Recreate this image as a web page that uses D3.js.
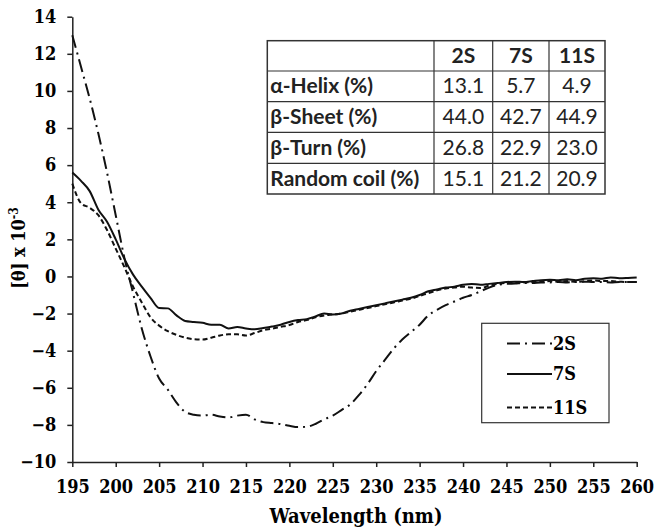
<!DOCTYPE html>
<html>
<head>
<meta charset="utf-8">
<script src="https://cdn.jsdelivr.net/npm/d3@7"></script>
<style>
  body { margin: 0; background: #fff; }
  svg { display: block; }
  .axis path, .axis line { stroke: #222; stroke-width: 1.5; }
  .serif { font-stretch: condensed; }
</style>
</head>
<body>
<div class="container"></div>
<script>
// CD spectra of 2S / 7S / 11S
const wavelengths = [195, 196, 197, 198, 199, 200, 201, 202, 203, 204, 205, 206, 207, 208, 209, 210,
  211, 212, 213, 214, 215, 216, 217, 218, 219, 220, 221, 222, 223, 224, 225, 226, 227, 228, 229, 230,
  231, 232, 233, 234, 235, 236, 237, 238, 239, 240, 241, 242, 243, 244, 245, 246, 247, 248, 249, 250,
  251, 252, 253, 254, 255, 256, 257, 258, 259, 260];

const s2 = [13.0, 11.3, 9.6, 7.7, 5.6, 3.3, 1.0, -0.9, -2.8, -4.3, -5.5, -6.1, -6.8, -7.3, -7.45, -7.5,
  -7.45, -7.55, -7.6, -7.5, -7.45, -7.7, -7.85, -7.9, -7.95, -8.05, -8.12, -8.1, -7.95, -7.7, -7.5, -7.2,
  -6.9, -6.4, -5.8, -5.1, -4.5, -3.9, -3.4, -3.0, -2.6, -2.1, -1.8, -1.55, -1.35, -1.15, -1.0, -0.8,
  -0.6, -0.45, -0.4, -0.38, -0.35, -0.35, -0.32, -0.32, -0.3, -0.32, -0.3, -0.28, -0.3, -0.3, -0.32,
  -0.3, -0.3, -0.3];

const s7 = [5.6, 5.15, 4.6, 3.6, 2.95, 2.0, 0.95, 0.1, -0.55, -1.15, -1.7, -1.72, -2.1, -2.4, -2.45, -2.5,
  -2.6, -2.6, -2.8, -2.72, -2.8, -2.85, -2.78, -2.7, -2.6, -2.45, -2.35, -2.3, -2.15, -2.0, -2.05, -2.0,
  -1.85, -1.75, -1.65, -1.55, -1.45, -1.35, -1.25, -1.15, -1.0, -0.8, -0.7, -0.6, -0.55, -0.45, -0.4,
  -0.45, -0.4, -0.35, -0.3, -0.28, -0.3, -0.25, -0.2, -0.18, -0.2, -0.15, -0.2, -0.12, -0.1, -0.12,
  -0.05, -0.1, -0.08, -0.05];

const s11 = [5.0, 3.95, 3.7, 3.3, 2.5, 1.5, 0.5, -0.55, -1.4, -2.2, -2.65, -2.95, -3.15, -3.3, -3.38, -3.4,
  -3.3, -3.18, -3.12, -3.12, -3.18, -3.05, -2.9, -2.82, -2.72, -2.62, -2.45, -2.35, -2.2, -2.1, -2.05,
  -2.0, -1.9, -1.8, -1.7, -1.6, -1.5, -1.4, -1.3, -1.2, -1.05, -0.9, -0.75, -0.65, -0.6, -0.55, -0.6,
  -0.62, -0.5, -0.4, -0.35, -0.35, -0.32, -0.3, -0.3, -0.25, -0.28, -0.25, -0.3, -0.25, -0.22, -0.25,
  -0.25, -0.28, -0.3, -0.3];

const seriesNames = ["2S", "7S", "11S"];
const seriesDash = ["13,5,2,5", null, "5,3"];

const xTicks = [195, 200, 205, 210, 215, 220, 225, 230, 235, 240, 245, 250, 255, 260];
const yTicks = [-10, -8, -6, -4, -2, 0, 2, 4, 6, 8, 10, 12, 14];

// secondary structure table
const tableCols = ["2S", "7S", "11S"];
const tableRows = ["α-Helix (%)", "β-Sheet (%)", "β-Turn (%)", "Random coil (%)"];
const tableVals = [
  ["13.1", "5.7", "4.9"],
  ["44.0", "42.7", "44.9"],
  ["26.8", "22.9", "23.0"],
  ["15.1", "21.2", "20.9"]
];

const w = 654;
const h = 529;
// only DejaVu Serif resolves here, use its condensed cut to get closer to Times
const serifFont = "DejaVu Serif Condensed, DejaVu Serif";
const tableFont = "Lato";

const xScale = d3.scaleLinear().domain([195, 260]).range([72.3, 636.7]);
const yScale = d3.scaleLinear().domain([-10, 14]).range([462, 16.7]);

const svg = d3.select(".container")
  .append("svg")
  .attr("width", w)
  .attr("height", h);

const xAxis = d3.axisBottom(xScale).tickValues(xTicks).tickSizeInner(5).tickSizeOuter(0).tickPadding(13);
const yAxis = d3.axisLeft(yScale).tickValues(yTicks).tickSizeInner(5).tickSizeOuter(0).tickPadding(11);

svg.append("g")
  .attr("class", "axis serif")
  .attr("transform", "translate(0," + yScale(-10) + ")")
  .call(xAxis)
  .attr("font-family", serifFont)
  .attr("font-size", 18)
  .attr("font-weight", "bold");

svg.append("g")
  .attr("class", "axis serif")
  .attr("transform", "translate(" + xScale(195) + ",0)")
  .call(yAxis)
  .attr("font-family", serifFont)
  .attr("font-size", 18)
  .attr("font-weight", "bold");

// axis titles
svg.append("text")
  .attr("class", "serif")
  .attr("x", 356)
  .attr("y", 523)
  .attr("text-anchor", "middle")
  .attr("font-family", serifFont)
  .attr("font-weight", "bold")
  .attr("font-size", 20)
  .text("Wavelength (nm)");

const yTitle = svg.append("text")
  .attr("class", "serif")
  .attr("transform", "translate(25,248) rotate(-90)")
  .attr("text-anchor", "middle")
  .attr("font-family", serifFont)
  .attr("font-weight", "bold")
  .attr("font-size", 18);
yTitle.append("tspan").text("[θ] x 10");
yTitle.append("tspan").attr("dy", -7).attr("font-size", 12).text("-3");

// curves
const allSeries = [s2, s7, s11];
const line = d3.line()
  .x((d, i) => xScale(wavelengths[i]))
  .y(d => yScale(d))
  .curve(d3.curveMonotoneX);

allSeries.forEach((s, k) => {
  svg.append("path")
    .datum(s)
    .attr("d", line)
    .attr("fill", "none")
    .attr("stroke", "#111")
    .attr("stroke-width", 2)
    .attr("stroke-dasharray", seriesDash[k]);
});

// legend
const legend = svg.append("g");
legend.append("rect")
  .attr("x", 481.7).attr("y", 323.3)
  .attr("width", 127.3).attr("height", 99.4)
  .attr("fill", "#fff").attr("stroke", "#333").attr("stroke-width", 1.2);

const legendY = [343.5, 374, 407.5];
seriesNames.forEach((name, k) => {
  legend.append("line")
    .attr("x1", 507).attr("x2", 552)
    .attr("y1", legendY[k]).attr("y2", legendY[k])
    .attr("stroke", "#111").attr("stroke-width", 2)
    .attr("stroke-dasharray", seriesDash[k]);
  legend.append("text")
    .attr("class", "serif")
    .attr("x", 553).attr("y", legendY[k] + 6)
    .attr("font-family", serifFont)
    .attr("font-weight", "bold")
    .attr("font-size", 18)
    .text(name);
});

// table
const colX = [267.3, 434, 492.7, 549, 605];
const rowY = [40.7, 71, 101.7, 132.3, 163.3, 194];
const tbl = svg.append("g")
  .attr("font-family", tableFont)
  .attr("font-size", 21)
  .attr("fill", "#222");

tbl.append("rect")
  .attr("x", colX[0]).attr("y", rowY[0])
  .attr("width", colX[4] - colX[0]).attr("height", rowY[5] - rowY[0])
  .attr("fill", "#fff").attr("stroke", "#333").attr("stroke-width", 1.5);
colX.slice(1, 4).forEach(x => {
  tbl.append("line").attr("x1", x).attr("x2", x).attr("y1", rowY[0]).attr("y2", rowY[5])
    .attr("stroke", "#333").attr("stroke-width", 1.2);
});
rowY.slice(1, 5).forEach(y => {
  tbl.append("line").attr("x1", colX[0]).attr("x2", colX[4]).attr("y1", y).attr("y2", y)
    .attr("stroke", "#333").attr("stroke-width", 1.2);
});

tableCols.forEach((c, j) => {
  tbl.append("text")
    .attr("x", (colX[j + 1] + colX[j + 2]) / 2)
    .attr("y", (rowY[0] + rowY[1]) / 2 + 7)
    .attr("text-anchor", "middle")
    .attr("font-weight", "bold")
    .text(c);
});
tableRows.forEach((r, i) => {
  const cy = (rowY[i + 1] + rowY[i + 2]) / 2 + 7;
  tbl.append("text")
    .attr("x", colX[0] + 3)
    .attr("y", cy)
    .attr("font-weight", "bold")
    .text(r);
  tableVals[i].forEach((v, j) => {
    tbl.append("text")
      .attr("x", (colX[j + 1] + colX[j + 2]) / 2)
      .attr("y", cy)
      .attr("text-anchor", "middle")
      .text(v);
  });
});
</script>
</body>
</html>
